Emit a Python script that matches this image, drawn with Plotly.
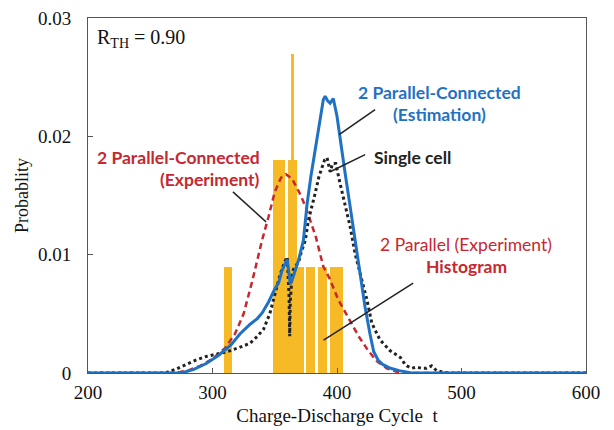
import plotly.graph_objects as go

# ---------------- data ----------------
# Histogram of 2-parallel experiment (bin edges and probabilities)
hist_left = [309.0, 348.4, 358.0, 360.7, 368.1, 375.4, 384.8, 394.7, 362.8]
hist_right = [315.8, 358.0, 360.7, 368.1, 373.6, 382.6, 392.0, 404.9, 365.4]
hist_prob = [0.009, 0.018, 0.009, 0.018, 0.009, 0.009, 0.009, 0.009, 0.027]

# 2 Parallel-Connected (Experiment) - red dashed
exp_x = [200, 270, 280, 290, 300, 310, 318, 325, 332, 340, 345, 350, 355, 359, 364, 370, 375,
         383, 389, 394, 401, 411, 418, 425, 432, 440, 448, 460, 600]
exp_y = [0, 0, 0.0002, 0.0006, 0.0012, 0.0021, 0.0033, 0.0050, 0.0078, 0.0113, 0.0132, 0.0153,
         0.0165, 0.0168, 0.0164, 0.0152, 0.0140, 0.0115, 0.0090, 0.0080, 0.0062, 0.0043, 0.0030,
         0.0019, 0.0010, 0.0004, 0.0001, 0, 0]

# 2 Parallel-Connected (Estimation) - blue solid
est_x = [200, 275, 285, 295, 305, 312, 315, 322, 330, 336, 340, 345, 350, 353, 356, 360, 362.5,
         365, 369, 373, 374.5, 376, 379, 381.5, 384, 386.5, 389, 390.5, 392.5, 394.5, 397, 400,
         402.5, 406.5, 410.5, 414.5, 418.5, 422.5, 426.5, 429.5, 433, 437, 443, 450, 460, 600]
est_y = [0, 0, 0.0003, 0.0008, 0.0015, 0.0021, 0.0024, 0.0033, 0.0041, 0.0046, 0.0051, 0.0060,
         0.0071, 0.0076, 0.0087, 0.0096, 0.0075, 0.0082, 0.0095, 0.0112, 0.0128, 0.0143, 0.0166,
         0.0183, 0.0200, 0.0217, 0.0231, 0.0234, 0.0230, 0.0228, 0.0232, 0.0217, 0.0200, 0.0169,
         0.0141, 0.0113, 0.0084, 0.0056, 0.0033, 0.0018, 0.0011, 0.0007, 0.0004, 0.0002, 0, 0]

# Single cell - black dotted
single_x = [200, 262, 270, 278, 287, 295, 303, 312, 320, 330, 336, 341, 346, 350, 354.5, 358,
            360, 361.5, 362, 362.5, 364, 366, 369, 371, 374.5, 377, 380, 382.5, 385.5, 388, 390,
            392, 394.5, 396.5, 399, 402.5, 406.5, 410.5, 414.5, 418.5, 424, 428, 434.5, 442.5,
            451, 453.5, 456, 460, 464, 468, 472, 476, 480, 484, 490, 600]
single_y = [0, 0, 0.0003, 0.0007, 0.0011, 0.0014, 0.0016, 0.0018, 0.0021, 0.0025, 0.0031,
            0.0037, 0.0050, 0.0065, 0.0084, 0.0094, 0.0098, 0.0065, 0.0031, 0.0060, 0.0085,
            0.0090, 0.0093, 0.0101, 0.0112, 0.0129, 0.0141, 0.0152, 0.0166, 0.0174, 0.0180,
            0.0182, 0.0170, 0.0177, 0.0177, 0.0160, 0.0141, 0.0124, 0.0101, 0.0084, 0.0062,
            0.0042, 0.0028, 0.0019, 0.0013, 0.0009, 0.0006, 0.0004, 0.0005, 0.0004, 0.0004,
            0.0006, 0.0002, 0.0001, 0, 0]

x_ticks = [200, 300, 400, 500, 600]
y_ticks = [0, 0.01, 0.02, 0.03]
y_tick_labels = ["0", "0.01", "0.02", "0.03"]

# ---------------- figure ----------------
BAR = "#F6BA26"
BLUE = "#1F72C3"
RED = "#C5282F"
SERIF = "Liberation Serif"
SANS = "Lato"
FS = 17.5

centers = [(a + b) / 2 for a, b in zip(hist_left, hist_right)]
widths = [b - a for a, b in zip(hist_left, hist_right)]

fig = go.Figure()
fig.add_trace(go.Bar(x=centers, y=hist_prob, width=widths, base=0,
                     marker=dict(color=BAR, line=dict(width=0)), showlegend=False))
fig.add_trace(go.Scatter(x=exp_x, y=exp_y, mode="lines",
                         line=dict(color=RED, width=2.5, dash="6px,4px"), showlegend=False))
fig.add_trace(go.Scatter(x=single_x, y=single_y, mode="lines",
                         line=dict(color="#222222", width=3, dash="3px,3px"), showlegend=False))
fig.add_trace(go.Scatter(x=est_x, y=est_y, mode="lines",
                         line=dict(color=BLUE, width=3), showlegend=False))

# pointer lines
pointers = [
    (430.6, 0.02226, 401.7, 0.02014),
    (422.6, 0.01845, 394.5, 0.01701),
    (316.4, 0.01531, 343.0, 0.01277),
    (461.2, 0.0076, 389.2, 0.00277),
]
for x0, y0, x1, y1 in pointers:
    fig.add_shape(type="line", xref="x", yref="y", x0=x0, y0=y0, x1=x1, y1=y1,
                  line=dict(color="#222222", width=1.5))

def ann(text, x, y, color, size, xanchor="center", family=SANS):
    fig.add_annotation(text=text, x=x, y=y, xref="x", yref="y", showarrow=False,
                       xanchor=xanchor, yanchor="middle",
                       font=dict(family=family, size=size, color=color))

ann("R<sub>TH</sub> = 0.90", 206.0, 0.0283, "#111111", 20, "left", SERIF)
ann("<b>2 Parallel-Connected</b>", 482.1, 0.0237, BLUE, FS)
ann("<b>(Estimation)</b>", 482.1, 0.02183, BLUE, FS)
ann("<b>Single cell</b>", 428.2, 0.01817, "#222222", FS, "left")
ann("<b>2 Parallel-Connected</b>", 339.7, 0.01817, RED, FS, "right")
ann("<b>(Experiment)</b>", 339.7, 0.01633, RED, FS, "right")
ann("2 Parallel (Experiment)", 503.9, 0.01082, RED, FS)
ann("<b>Histogram</b>", 503.9, 0.00898, RED, FS)

axis_common = dict(showgrid=False, zeroline=False, showline=True, linecolor="#555555",
                   linewidth=1, mirror=True, ticks="inside", ticklen=5, tickcolor="#555555",
                   automargin=False,
                   tickfont=dict(family=SERIF, size=19, color="#111111"))

fig.update_xaxes(range=[200, 600], tickvals=x_ticks, ticktext=[str(v) for v in x_ticks],
                 ticklabelstandoff=2,
                 title=dict(text="Charge-Discharge Cycle  t",
                            font=dict(family=SERIF, size=19, color="#111111"), standoff=6),
                 **axis_common)
fig.update_yaxes(range=[0, 0.03], tickvals=y_ticks, ticktext=y_tick_labels,
                 ticklabelstandoff=12,
                 title=dict(text="Probablity",
                            font=dict(family=SERIF, size=18, color="#111111"), standoff=4),
                 **axis_common)

fig.update_layout(width=614, height=430, margin=dict(l=88, r=28, t=18, b=57),
                  paper_bgcolor="white", plot_bgcolor="white", barmode="overlay",
                  bargap=0)

fig.write_html("out.html")
